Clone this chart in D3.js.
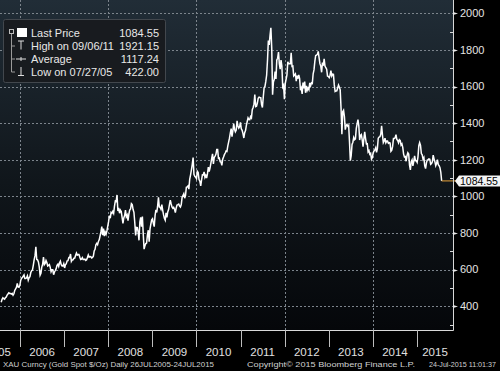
<!DOCTYPE html>
<html>
<head>
<meta charset="utf-8">
<script src="https://cdn.jsdelivr.net/npm/d3@7"></script>
<style>
  html, body { margin: 0; padding: 0; background: #000; }
  #chart-container { width: 500px; height: 371px; }
  text { font-family: "Liberation Sans", Arial, sans-serif; }
</style>
</head>
<body>
<div id="chart-container"></div>
<script>
// Weekly (Friday) gold spot closes, one list per calendar year
const prices2005 = [422, 438, 446, 441, 438, 447, 450, 461, 467, 473, 470, 470, 466, 470, 460, 468, 486, 495, 503, 525, 505, 503, 513];
const prices2006 = [540, 553, 556, 564, 571, 551, 551, 555, 566, 542, 555, 561, 584, 594, 598, 624, 654, 676, 725, 655, 653,
  642, 615, 570, 580, 614, 629, 668, 627, 634, 650, 639, 620, 623, 627, 612, 588, 599, 599, 572, 587, 595, 605,
  623, 629, 617, 637, 646, 627, 620, 620, 632];
const prices2007 = [609, 627, 632, 648, 649, 666, 665, 685, 645, 653, 654, 662, 663, 678, 690, 679, 682, 682, 668, 655, 657,
  665, 655, 655, 657, 650, 654, 666, 680, 668, 671, 670, 664, 667, 673, 702, 711, 736, 743, 736, 754, 764, 785,
  807, 835, 788, 824, 783, 805, 793, 811, 836];
const prices2008 = [862, 895, 881, 913, 908, 918, 907, 947, 975, 973, 1008, 920, 937, 908, 925, 918, 885, 852, 882, 895, 925, 888,
  898, 868, 903, 925, 931, 960, 955, 928, 913, 857, 787, 830, 829, 805, 760, 860, 885, 835, 890, 795, 712, 730,
  742, 745, 790, 815, 752, 821, 848, 872];
const prices2009 = [878, 853, 835, 895, 927, 912, 945, 995, 942, 940, 930, 955, 925, 900, 880, 870, 910, 885, 915, 928, 955, 980,
  960, 942, 935, 940, 930, 912, 937, 953, 955, 958, 947, 942, 955, 995, 1005, 1015, 990, 1004, 1050, 1052, 1057, 1040,
  1095, 1118, 1145, 1175, 1212, 1120, 1110, 1105];
const prices2010 = [1097, 1137, 1130, 1092, 1083, 1058, 1090, 1118, 1117, 1134, 1104, 1115, 1100, 1124, 1160, 1135, 1155, 1180,
  1208, 1232, 1177, 1213, 1220, 1230, 1256, 1256, 1208, 1210, 1190, 1188, 1170, 1203, 1215, 1228, 1237,
  1248, 1246, 1275, 1297, 1318, 1346, 1370, 1326, 1358, 1397, 1367, 1353, 1363, 1413, 1385, 1373, 1380, 1405];
const prices2011 = [1369, 1361, 1343, 1319, 1348, 1360, 1388, 1409, 1429, 1420, 1419, 1436, 1429, 1474, 1486, 1504, 1556,
  1491, 1493, 1510, 1536, 1542, 1540, 1539, 1502, 1486, 1543, 1594, 1601, 1628, 1663, 1744, 1852, 1828,
  1880, 1921, 1810, 1555, 1625, 1640, 1682, 1642, 1745, 1755, 1788, 1725, 1695, 1745, 1712, 1598, 1607, 1531];
const prices2012 = [1616, 1640, 1664, 1735, 1725, 1725, 1725, 1785, 1710, 1712, 1658, 1663, 1669, 1630, 1660, 1643, 1663,
  1643, 1580, 1592, 1560, 1622, 1590, 1627, 1566, 1604, 1580, 1592, 1583, 1620, 1605, 1620, 1617, 1670, 1691,
  1738, 1770, 1772, 1776, 1792, 1758, 1725, 1712, 1678, 1731, 1714, 1752, 1712, 1703, 1695, 1657, 1656];
const prices2013 = [1649, 1662, 1687, 1658, 1668, 1667, 1609, 1573, 1576, 1577, 1592, 1608, 1596, 1582, 1480, 1340, 1462,
  1470, 1435, 1365, 1387, 1393, 1383, 1388, 1297, 1195, 1223, 1284, 1296, 1322, 1310, 1314, 1370, 1396, 1420,
  1386, 1308, 1333, 1338, 1310, 1272, 1315, 1352, 1316, 1287, 1288, 1243, 1250, 1230, 1235, 1203, 1213];
const prices2014 = [1238, 1248, 1254, 1266, 1240, 1262, 1318, 1324, 1326, 1339, 1385, 1335, 1294, 1303, 1318, 1293, 1302,
  1302, 1290, 1294, 1292, 1246, 1252, 1273, 1316, 1316, 1320, 1337, 1310, 1306, 1293, 1310, 1305, 1280, 1287,
  1268, 1231, 1216, 1218, 1192, 1222, 1238, 1231, 1171, 1145, 1190, 1200, 1167, 1191, 1222, 1195, 1195];
const prices2015 = [1186, 1216, 1277, 1294, 1279, 1234, 1227, 1203, 1212, 1167, 1152, 1183, 1199, 1201, 1205, 1203, 1175,
  1179, 1189, 1225, 1205, 1190, 1168, 1180, 1201, 1173, 1168, 1157, 1132, 1084.55];

const yearlyPrices = [prices2005, prices2006, prices2007, prices2008, prices2009, prices2010,
  prices2011, prices2012, prices2013, prices2014, prices2015];
const firstYear = 2005;
const seriesStart = "2005-07-29";
const seriesEnd = "2015-07-24";

// Axis ticks and labels
const yTicks = [400, 600, 800, 1000, 1200, 1400, 1600, 1800, 2000];
const yMinorTicks = [300, 500, 700, 900, 1100, 1300, 1500, 1700, 1900];
const yearLabels = ["2005", "2006", "2007", "2008", "2009", "2010", "2011", "2012", "2013", "2014", "2015"];
const gridYears = ["2006", "2008", "2010", "2012", "2014"];

// Legend rows
const legendLabels = ["Last Price", "High on 09/06/11", "Average", "Low on 07/27/05"];
const legendValues = ["1084.55", "1921.15", "1117.24", "422.00"];
const lastPrice = 1084.55;

function renderChart() {
    d3.select("#chart-container svg").remove();

    const parseTime = d3.timeParse("%Y-%m-%d");
    const width = 500, height = 371;
    const plotRight = 453, plotBottom = 330;

    // Pair each weekly value with its Friday
    const start = parseTime(seriesStart);
    const end = d3.timeDay.offset(parseTime(seriesEnd), 1);
    const data = [];
    yearlyPrices.forEach((vals, i) => {
        const yr = firstYear + i;
        const from = d3.max([start, new Date(yr, 0, 1)]);
        const to = d3.min([end, new Date(yr + 1, 0, 1)]);
        const fridays = d3.timeFriday.range(from, to);
        fridays.forEach((d, j) => {
            if (j < vals.length) data.push({ date: d, price: vals[j] });
        });
    });

    const svg = d3.select("#chart-container")
        .append("svg")
        .attr("width", width)
        .attr("height", height);

    svg.append("rect").attr("width", width).attr("height", height).attr("fill", "#000");

    // background gradient of the plot area
    const grad = svg.append("defs").append("linearGradient")
        .attr("id", "bg").attr("x1", 0).attr("y1", 0).attr("x2", 0).attr("y2", 1);
    grad.append("stop").attr("offset", "0%").attr("stop-color", "#212d37");
    grad.append("stop").attr("offset", "55%").attr("stop-color", "#10161b");
    grad.append("stop").attr("offset", "100%").attr("stop-color", "#05070a");

    svg.append("rect")
        .attr("width", plotRight)
        .attr("height", plotBottom)
        .attr("fill", "url(#bg)");

    const x = d3.scaleTime()
        .domain([parseTime("2005-07-19"), parseTime("2015-10-26")])
        .range([0, plotRight]);

    const y = d3.scaleLinear()
        .domain([270, 2073])
        .range([plotBottom, 0]);

    // dotted gridlines
    svg.append("g")
        .selectAll("line")
        .data(yTicks)
        .join("line")
        .attr("x1", 0).attr("x2", plotRight)
        .attr("y1", d => Math.round(y(d)) + 0.5).attr("y2", d => Math.round(y(d)) + 0.5)
        .attr("stroke", "#7c848c")
        .attr("stroke-width", 1)
        .attr("stroke-dasharray", "2,2");

    svg.append("g")
        .selectAll("line")
        .data(gridYears)
        .join("line")
        .attr("x1", d => Math.round(x(parseTime(d + "-01-01"))) + 0.5)
        .attr("x2", d => Math.round(x(parseTime(d + "-01-01"))) + 0.5)
        .attr("y1", 0).attr("y2", plotBottom)
        .attr("stroke", "#7c848c")
        .attr("stroke-width", 1)
        .attr("stroke-dasharray", "2,2");

    // price line
    const line = d3.line()
        .x(d => x(d.date))
        .y(d => y(d.price));

    svg.append("path")
        .datum(data)
        .attr("d", line)
        .attr("fill", "none")
        .attr("stroke", "#ffffff")
        .attr("stroke-width", 1.5)
        .attr("stroke-linejoin", "miter");

    // last price marker line
    const last = data[data.length - 1];
    svg.append("line")
        .attr("x1", x(last.date)).attr("x2", plotRight + 3)
        .attr("y1", y(lastPrice)).attr("y2", y(lastPrice))
        .attr("stroke", "#e8a13a")
        .attr("stroke-width", 1);

    // right axis
    svg.append("line")
        .attr("x1", plotRight + 0.5).attr("x2", plotRight + 0.5)
        .attr("y1", 0).attr("y2", plotBottom + 0.5)
        .attr("stroke", "#d8d8d8");

    svg.append("g")
        .selectAll("line")
        .data(yMinorTicks)
        .join("line")
        .attr("x1", plotRight - 3).attr("x2", plotRight)
        .attr("y1", d => Math.round(y(d)) + 0.5).attr("y2", d => Math.round(y(d)) + 0.5)
        .attr("stroke", "#d8d8d8");

    svg.append("g")
        .selectAll("path")
        .data(yTicks)
        .join("path")
        .attr("d", d => {
            const yy = Math.round(y(d)) + 0.5;
            return `M${plotRight},${yy - 1.5}L${plotRight + 5},${yy}L${plotRight},${yy + 1.5}Z`;
        })
        .attr("fill", "#e8e8e8");

    svg.append("g")
        .selectAll("text")
        .data(yTicks)
        .join("text")
        .attr("x", plotRight + 7)
        .attr("y", d => y(d))
        .attr("dy", "0.35em")
        .attr("fill", "#e4e4e4")
        .style("font-size", "11px")
        .text(d => d);

    // last price tag
    const ty = y(lastPrice);
    svg.append("path")
        .attr("d", `M${plotRight + 2},${ty}L${plotRight + 6},${ty - 5.5}L500,${ty - 5.5}L500,${ty + 5.5}L${plotRight + 6},${ty + 5.5}Z`)
        .attr("fill", "#f4f4f4");
    svg.append("text")
        .attr("x", plotRight + 7)
        .attr("y", ty)
        .attr("dy", "0.36em")
        .attr("fill", "#000")
        .style("font-size", "10.5px")
        .text(d3.format(".2f")(lastPrice));

    // bottom axis
    svg.append("line")
        .attr("x1", 0).attr("x2", plotRight + 0.5)
        .attr("y1", plotBottom + 0.5).attr("y2", plotBottom + 0.5)
        .attr("stroke", "#d8d8d8");

    svg.append("g")
        .selectAll("line")
        .data(yearLabels.slice(1))
        .join("line")
        .attr("x1", d => Math.round(x(parseTime(d + "-01-01"))) + 0.5)
        .attr("x2", d => Math.round(x(parseTime(d + "-01-01"))) + 0.5)
        .attr("y1", plotBottom).attr("y2", plotBottom + 17)
        .attr("stroke", "#bdbdbd");

    svg.append("g")
        .selectAll("text")
        .data(yearLabels)
        .join("text")
        .attr("x", d => {
            const a = x(parseTime(d + "-01-01"));
            const b = Math.min(plotRight, x(parseTime((+d + 1) + "-01-01")));
            return (a + b) / 2;
        })
        .attr("y", 356)
        .attr("text-anchor", "middle")
        .attr("fill", "#e0e0e0")
        .style("font-size", "11.5px")
        .text(d => d);

    // footer
    const footer = svg.append("g").attr("fill", "#d0d0d0").style("font-size", "8px");
    footer.append("text").attr("x", 3).attr("y", 367)
        .attr("textLength", 211).attr("lengthAdjust", "spacingAndGlyphs")
        .text("XAU Curncy (Gold Spot  $/Oz)  Daily 26JUL2005-24JUL2015");
    footer.append("text").attr("x", 247).attr("y", 367)
        .attr("textLength", 168).attr("lengthAdjust", "spacingAndGlyphs")
        .text("Copyright\u00a9 2015 Bloomberg Finance L.P.");
    footer.append("text").attr("x", 429).attr("y", 367)
        .attr("textLength", 67).attr("lengthAdjust", "spacingAndGlyphs")
        .text("24-Jul-2015 11:01:37");

    // legend box
    const legend = svg.append("g");
    legend.append("rect")
        .attr("x", 3.5).attr("y", 19.5)
        .attr("width", 162).attr("height", 63)
        .attr("rx", 2)
        .attr("fill", "#181b1f")
        .attr("stroke", "#42474d");

    const rowY = i => 36.5 + i * 13;

    // tree lines
    legend.append("line")
        .attr("x1", 11.5).attr("x2", 11.5).attr("y1", 34).attr("y2", rowY(3) - 3.5)
        .attr("stroke", "#9a9a9a");
    [1, 2, 3].forEach(i => {
        legend.append("line")
            .attr("x1", 11.5).attr("x2", 15).attr("y1", rowY(i) - 3.5).attr("y2", rowY(i) - 3.5)
            .attr("stroke", "#9a9a9a");
    });
    // collapse box
    legend.append("rect").attr("x", 9.5).attr("y", 29.5).attr("width", 4).attr("height", 4)
        .attr("fill", "none").attr("stroke", "#bbb");
    // white square
    legend.append("rect").attr("x", 17).attr("y", 28).attr("width", 10).attr("height", 9).attr("fill", "#fff");
    // high marker
    legend.append("path").attr("d", `M18,${rowY(1) - 8.5}H24M21,${rowY(1) - 8.5}V${rowY(1)}`)
        .attr("stroke", "#ddd").attr("fill", "none");
    // average marker
    legend.append("path").attr("d", `M16,${rowY(2) - 3.5}H26M21,${rowY(2) - 5.5}V${rowY(2) - 1.5}`)
        .attr("stroke", "#ddd").attr("fill", "none");
    // low marker
    legend.append("path").attr("d", `M21,${rowY(3) - 8.5}V${rowY(3)}M18,${rowY(3)}H24`)
        .attr("stroke", "#ddd").attr("fill", "none");

    legend.selectAll("text.lab")
        .data(legendLabels)
        .join("text")
        .attr("class", "lab")
        .attr("x", 31)
        .attr("y", (d, i) => rowY(i))
        .attr("fill", "#e8e8e8")
        .style("font-size", "11px")
        .text(d => d);

    legend.selectAll("text.val")
        .data(legendValues)
        .join("text")
        .attr("class", "val")
        .attr("x", 159)
        .attr("y", (d, i) => rowY(i))
        .attr("text-anchor", "end")
        .attr("fill", "#e8e8e8")
        .style("font-size", "11px")
        .text(d => d);
}

renderChart();
</script>
</body>
</html>
